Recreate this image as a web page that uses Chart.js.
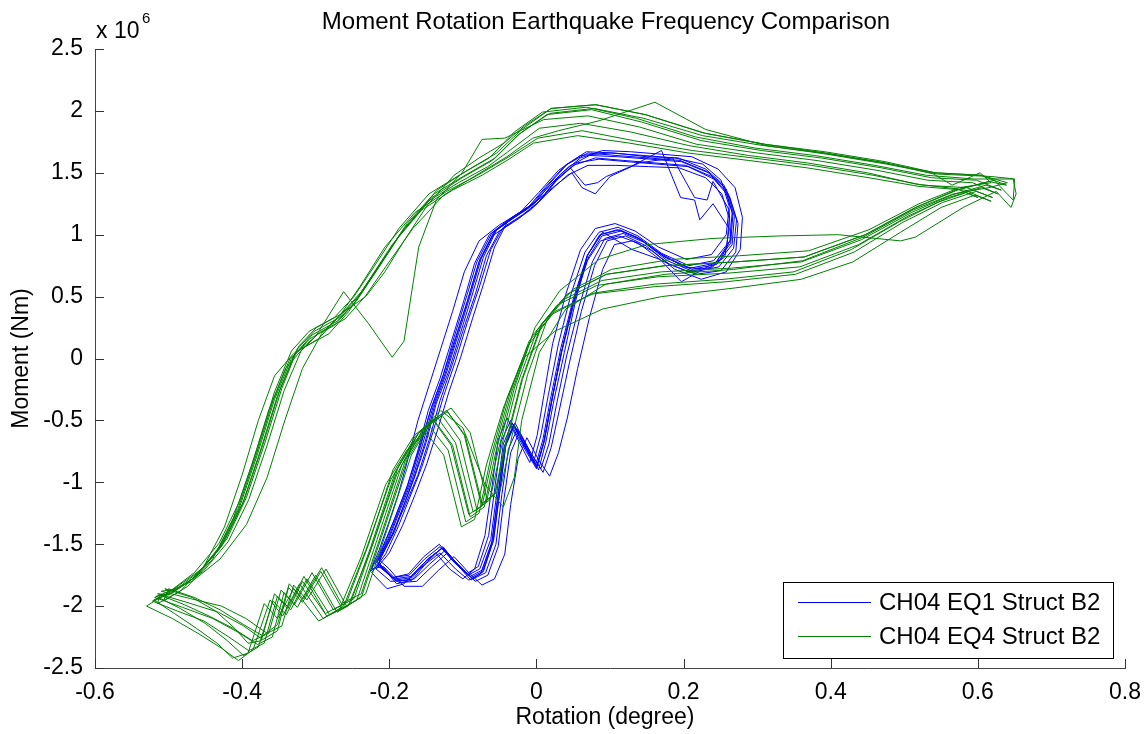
<!DOCTYPE html>
<html>
<head>
<meta charset="utf-8">
<script src="https://cdn.jsdelivr.net/npm/chart.js@4/dist/chart.umd.min.js"></script>
<style>
  html, body { margin: 0; padding: 0; background: #fff; }
  canvas { display: block; }
</style>
</head>
<body>
<canvas id="chart" width="1145" height="734"></canvas>
<script>
'use strict';

// axis ticks
var rotationTicks = [-0.6, -0.4, -0.2, 0, 0.2, 0.4, 0.6, 0.8];
var momentTicks = [-2.5, -2, -1.5, -1, -0.5, 0, 0.5, 1, 1.5, 2, 2.5];

// series labels
var seriesLabels = ['CH04 EQ1 Struct B2', 'CH04 EQ4 Struct B2'];

// EQ1 loops: [rotation (degree), moment (x 10^6 Nm)]
var eq1Cycle1 = [[-0.216,-1.64],[-0.200,-1.45],[-0.185,-1.22],[-0.169,-0.98],[-0.155,-0.70],[-0.140,-0.38],[-0.124,-0.12],[-0.108,0.19],[-0.093,0.48],[-0.077,0.80],[-0.058,1.02],[-0.030,1.14],[-0.005,1.24],[0.018,1.40],[0.044,1.55],[0.072,1.64],[0.110,1.63],[0.155,1.61],[0.197,1.59],[0.234,1.50],[0.258,1.37],[0.269,1.15],[0.266,0.92],[0.245,0.76],[0.211,0.72],[0.174,0.82],[0.142,0.96],[0.115,1.03],[0.089,0.99],[0.071,0.82],[0.052,0.47],[0.035,0.07],[0.021,-0.34],[0.011,-0.66],[0.001,-0.87],[-0.014,-0.72],[-0.031,-0.53],[-0.043,-0.70],[-0.051,-1.06],[-0.060,-1.47],[-0.074,-1.71],[-0.090,-1.76],[-0.108,-1.66],[-0.128,-1.53],[-0.149,-1.63],[-0.170,-1.76],[-0.193,-1.78],[-0.212,-1.68]];
var eq1Cycle2 = [[-0.214,-1.62],[-0.196,-1.42],[-0.178,-1.18],[-0.161,-0.94],[-0.146,-0.66],[-0.131,-0.34],[-0.115,-0.06],[-0.099,0.24],[-0.083,0.52],[-0.068,0.83],[-0.050,1.03],[-0.024,1.13],[0.001,1.25],[0.024,1.42],[0.050,1.56],[0.080,1.62],[0.118,1.60],[0.160,1.58],[0.203,1.56],[0.238,1.47],[0.261,1.33],[0.272,1.12],[0.268,0.89],[0.248,0.74],[0.214,0.70],[0.178,0.79],[0.146,0.94],[0.118,1.01],[0.093,0.97],[0.076,0.78],[0.058,0.42],[0.041,0.02],[0.027,-0.38],[0.017,-0.69],[0.006,-0.89],[-0.009,-0.75],[-0.026,-0.57],[-0.038,-0.73],[-0.047,-1.10],[-0.055,-1.50],[-0.069,-1.73],[-0.086,-1.78],[-0.104,-1.68],[-0.124,-1.55],[-0.145,-1.66],[-0.166,-1.78],[-0.190,-1.80],[-0.210,-1.70]];
var eq1Cycle3 = [[-0.219,-1.66],[-0.205,-1.48],[-0.190,-1.25],[-0.175,-1.02],[-0.161,-0.74],[-0.147,-0.42],[-0.131,-0.16],[-0.115,0.15],[-0.100,0.44],[-0.084,0.77],[-0.064,1.00],[-0.036,1.13],[-0.010,1.23],[0.013,1.39],[0.039,1.56],[0.068,1.67],[0.106,1.66],[0.150,1.63],[0.193,1.62],[0.230,1.53],[0.255,1.40],[0.266,1.18],[0.263,0.95],[0.241,0.79],[0.207,0.75],[0.170,0.85],[0.138,0.99],[0.111,1.06],[0.085,1.02],[0.066,0.86],[0.047,0.52],[0.030,0.12],[0.016,-0.30],[0.006,-0.62],[-0.004,-0.84],[-0.018,-0.69],[-0.035,-0.50],[-0.048,-0.67],[-0.056,-1.02],[-0.065,-1.43],[-0.079,-1.68],[-0.095,-1.74],[-0.113,-1.64],[-0.132,-1.50],[-0.153,-1.60],[-0.174,-1.74],[-0.196,-1.77],[-0.215,-1.66]];
var eq1Cycle4 = [[-0.211,-1.60],[-0.193,-1.40],[-0.181,-1.20],[-0.165,-0.95],[-0.150,-0.68],[-0.136,-0.36],[-0.119,-0.10],[-0.103,0.21],[-0.088,0.50],[-0.072,0.82],[-0.054,1.04],[-0.027,1.16],[-0.002,1.26],[0.022,1.38],[0.048,1.50],[0.062,1.38],[0.080,1.33],[0.100,1.47],[0.140,1.58],[0.185,1.62],[0.215,1.30],[0.232,1.28],[0.240,1.43],[0.262,1.20],[0.264,0.96],[0.250,0.80],[0.197,0.62],[0.168,0.80],[0.130,0.88],[0.090,1.02],[0.070,0.84],[0.053,0.46],[0.038,0.05],[0.023,-0.36],[0.013,-0.67],[0.003,-0.90],[-0.012,-0.73],[-0.029,-0.52],[-0.041,-0.68],[-0.049,-1.04],[-0.058,-1.46],[-0.072,-1.72],[-0.089,-1.79],[-0.107,-1.67],[-0.127,-1.52],[-0.148,-1.64],[-0.169,-1.79],[-0.190,-1.82],[-0.213,-1.66]];
var eq1Cycle5 = [[-0.226,-1.72],[-0.214,-1.55],[-0.201,-1.33],[-0.188,-1.10],[-0.175,-0.82],[-0.161,-0.50],[-0.146,-0.22],[-0.130,0.08],[-0.114,0.38],[-0.098,0.70],[-0.078,0.95],[-0.050,1.08],[-0.022,1.18],[0.003,1.34],[0.030,1.52],[0.060,1.64],[0.100,1.66],[0.145,1.64],[0.188,1.62],[0.226,1.57],[0.251,1.44],[0.262,1.23],[0.258,1.00],[0.238,0.84],[0.204,0.80],[0.166,0.90],[0.134,1.03],[0.107,1.09],[0.080,1.05],[0.060,0.88],[0.040,0.52],[0.022,0.12],[0.010,-0.30],[0.001,-0.62],[-0.009,-0.84],[-0.023,-0.68],[-0.040,-0.48],[-0.052,-0.66],[-0.060,-1.02],[-0.070,-1.43],[-0.084,-1.70],[-0.100,-1.78],[-0.118,-1.70],[-0.137,-1.57],[-0.158,-1.68],[-0.180,-1.82],[-0.203,-1.86],[-0.224,-1.73]];
var eq1Cycle6 = [[-0.205,-1.58],[-0.188,-1.36],[-0.172,-1.12],[-0.156,-0.88],[-0.141,-0.60],[-0.126,-0.30],[-0.110,-0.02],[-0.094,0.29],[-0.078,0.57],[-0.062,0.88],[-0.045,1.06],[-0.019,1.16],[0.006,1.28],[0.029,1.45],[0.055,1.58],[0.085,1.61],[0.123,1.59],[0.165,1.57],[0.206,1.55],[0.241,1.45],[0.263,1.30],[0.274,1.09],[0.271,0.86],[0.251,0.71],[0.217,0.68],[0.181,0.76],[0.149,0.91],[0.121,0.99],[0.096,0.95],[0.079,0.75],[0.061,0.38],[0.045,-0.03],[0.031,-0.42],[0.020,-0.72],[0.009,-0.92],[-0.006,-0.78],[-0.023,-0.59],[-0.035,-0.76],[-0.044,-1.13],[-0.052,-1.52],[-0.066,-1.75],[-0.083,-1.80],[-0.101,-1.70],[-0.121,-1.57],[-0.142,-1.68],[-0.163,-1.80],[-0.187,-1.81],[-0.208,-1.68]];
var eq1Cycle7 = [[-0.224,-1.70],[-0.209,-1.52],[-0.193,-1.30],[-0.176,-1.04],[-0.160,-0.74],[-0.144,-0.42],[-0.127,-0.14],[-0.110,0.17],[-0.094,0.46],[-0.078,0.78],[-0.060,0.99],[-0.033,1.10],[-0.008,1.20],[0.016,1.34],[0.042,1.48],[0.070,1.56],[0.108,1.56],[0.152,1.55],[0.194,1.54],[0.230,1.46],[0.252,1.33],[0.262,1.13],[0.259,0.91],[0.240,0.74],[0.206,0.70],[0.170,0.79],[0.139,0.93],[0.112,0.99],[0.087,0.95],[0.068,0.78],[0.049,0.43],[0.033,0.03],[0.020,-0.37],[0.010,-0.68],[0.000,-0.89],[-0.015,-0.74],[-0.032,-0.56],[-0.044,-0.72],[-0.052,-1.09],[-0.061,-1.50],[-0.076,-1.74],[-0.092,-1.79],[-0.110,-1.70],[-0.131,-1.57],[-0.153,-1.67],[-0.175,-1.79],[-0.198,-1.80],[-0.218,-1.70]];
var eq1Cycle8 = [[-0.200,-1.57],[-0.182,-1.35],[-0.165,-1.10],[-0.149,-0.85],[-0.134,-0.57],[-0.119,-0.27],[-0.103,0.01],[-0.087,0.32],[-0.072,0.60],[-0.057,0.90],[-0.040,1.10],[-0.014,1.20],[0.010,1.32],[0.033,1.49],[0.060,1.62],[0.090,1.68],[0.128,1.67],[0.170,1.65],[0.211,1.63],[0.247,1.53],[0.270,1.38],[0.280,1.14],[0.277,0.88],[0.258,0.70],[0.224,0.64],[0.188,0.72],[0.157,0.87],[0.130,0.95],[0.106,0.92],[0.090,0.72],[0.072,0.33],[0.056,-0.08],[0.042,-0.48],[0.030,-0.76],[0.018,-0.95],[0.004,-0.83],[-0.013,-0.64],[-0.025,-0.81],[-0.035,-1.18],[-0.043,-1.58],[-0.057,-1.78],[-0.074,-1.83],[-0.092,-1.73],[-0.112,-1.60],[-0.133,-1.71],[-0.155,-1.84],[-0.180,-1.84],[-0.200,-1.70]];
var eq1Cycle9 = [[-0.213,-1.63],[-0.197,-1.44],[-0.182,-1.21],[-0.167,-0.97],[-0.152,-0.69],[-0.138,-0.37],[-0.122,-0.11],[-0.106,0.20],[-0.091,0.49],[-0.075,0.81],[-0.056,1.03],[-0.028,1.15],[-0.004,1.25],[0.020,1.41],[0.046,1.54],[0.066,1.40],[0.083,1.42],[0.095,1.47],[0.128,1.55],[0.170,1.68],[0.196,1.30],[0.215,1.28],[0.222,1.12],[0.240,1.25],[0.262,1.05],[0.256,0.82],[0.232,0.72],[0.200,0.74],[0.166,0.86],[0.136,0.98],[0.110,1.04],[0.086,1.00],[0.069,0.83],[0.050,0.45],[0.034,0.05],[0.020,-0.36],[0.010,-0.67],[0.000,-0.88],[-0.014,-0.72],[-0.030,-0.54],[-0.042,-0.71],[-0.050,-1.08],[-0.059,-1.48],[-0.073,-1.72],[-0.089,-1.77],[-0.107,-1.66],[-0.127,-1.53],[-0.148,-1.62],[-0.169,-1.77],[-0.192,-1.79],[-0.211,-1.67]];
var eq1Cycle10 = [[-0.217,-1.65],[-0.202,-1.46],[-0.187,-1.23],[-0.172,-1.00],[-0.158,-0.72],[-0.143,-0.40],[-0.127,-0.14],[-0.112,0.17],[-0.097,0.46],[-0.081,0.78],[-0.061,1.01],[-0.033,1.14],[-0.007,1.24],[0.016,1.40],[0.042,1.57],[0.070,1.66],[0.108,1.64],[0.152,1.62],[0.195,1.60],[0.232,1.51],[0.256,1.38],[0.267,1.16],[0.264,0.93],[0.243,0.77],[0.209,0.73],[0.172,0.83],[0.140,0.97],[0.113,1.04],[0.087,1.00],[0.069,0.83],[0.050,0.48],[0.033,0.08],[0.019,-0.33],[0.009,-0.65],[-0.001,-0.86],[-0.016,-0.71],[-0.033,-0.52],[-0.045,-0.69],[-0.053,-1.05],[-0.062,-1.46],[-0.077,-1.70],[-0.093,-1.75],[-0.111,-1.65],[-0.131,-1.52],[-0.152,-1.62],[-0.173,-1.75],[-0.196,-1.77],[-0.214,-1.67]];

// EQ4 loops: [rotation (degree), moment (x 10^6 Nm)]
var eq4Cycle1 = [[-0.519,-1.93],[-0.481,-2.01],[-0.440,-2.10],[-0.406,-2.21],[-0.379,-2.31],[-0.359,-2.25],[-0.343,-1.89],[-0.325,-2.01],[-0.300,-1.75],[-0.271,-2.05],[-0.244,-1.95],[-0.217,-1.47],[-0.183,-0.86],[-0.155,-0.58],[-0.128,-0.46],[-0.104,-0.66],[-0.081,-1.22],[-0.063,-1.14],[-0.047,-0.70],[-0.026,-0.21],[0.001,0.23],[0.035,0.47],[0.089,0.63],[0.170,0.70],[0.265,0.73],[0.360,0.78],[0.442,0.96],[0.510,1.18],[0.564,1.32],[0.611,1.40],[0.632,1.36],[0.598,1.44],[0.537,1.46],[0.469,1.54],[0.387,1.62],[0.306,1.68],[0.224,1.76],[0.143,1.91],[0.075,2.01],[0.014,1.97],[-0.026,1.80],[-0.060,1.60],[-0.101,1.46],[-0.142,1.30],[-0.183,1.02],[-0.217,0.71],[-0.244,0.47],[-0.271,0.30],[-0.305,0.19],[-0.329,0.03],[-0.352,-0.30],[-0.375,-0.74],[-0.400,-1.18],[-0.427,-1.51],[-0.461,-1.75],[-0.494,-1.89]];
var eq4Cycle2 = [[-0.522,-1.96],[-0.488,-2.04],[-0.452,-2.12],[-0.418,-2.25],[-0.391,-2.36],[-0.370,-2.30],[-0.352,-1.92],[-0.334,-2.03],[-0.312,-1.78],[-0.281,-2.07],[-0.253,-1.98],[-0.225,-1.52],[-0.192,-0.92],[-0.165,-0.63],[-0.139,-0.50],[-0.114,-0.70],[-0.090,-1.28],[-0.071,-1.20],[-0.055,-0.75],[-0.033,-0.26],[-0.006,0.18],[0.028,0.43],[0.082,0.59],[0.165,0.66],[0.262,0.69],[0.358,0.74],[0.438,0.92],[0.505,1.15],[0.560,1.30],[0.605,1.38],[0.627,1.33],[0.593,1.42],[0.532,1.44],[0.463,1.52],[0.380,1.60],[0.300,1.66],[0.218,1.73],[0.140,1.87],[0.070,1.96],[0.010,1.93],[-0.043,1.78],[-0.074,1.77],[-0.101,1.50],[-0.136,1.28],[-0.160,0.90],[-0.180,0.14],[-0.196,0.01],[-0.228,0.28],[-0.262,0.54],[-0.300,0.18],[-0.335,0.00],[-0.358,-0.34],[-0.381,-0.78],[-0.406,-1.22],[-0.433,-1.55],[-0.467,-1.78],[-0.500,-1.91]];
var eq4Cycle3 = [[-0.515,-1.90],[-0.475,-1.97],[-0.432,-2.05],[-0.398,-2.16],[-0.372,-2.27],[-0.352,-2.20],[-0.337,-1.85],[-0.318,-1.97],[-0.293,-1.72],[-0.264,-2.02],[-0.238,-1.93],[-0.210,-1.43],[-0.176,-0.82],[-0.148,-0.54],[-0.121,-0.43],[-0.097,-0.62],[-0.074,-1.17],[-0.056,-1.09],[-0.040,-0.66],[-0.019,-0.17],[0.008,0.28],[0.042,0.52],[0.095,0.68],[0.176,0.75],[0.270,0.78],[0.364,0.82],[0.447,1.00],[0.516,1.22],[0.572,1.36],[0.622,1.44],[0.648,1.28],[0.650,1.45],[0.618,1.47],[0.545,1.49],[0.476,1.57],[0.395,1.65],[0.312,1.72],[0.230,1.85],[0.161,2.07],[0.085,1.92],[0.030,1.84],[-0.005,1.78],[-0.040,1.63],[-0.082,1.48],[-0.126,1.32],[-0.168,1.05],[-0.205,0.74],[-0.233,0.50],[-0.260,0.32],[-0.295,0.21],[-0.320,0.06],[-0.343,-0.26],[-0.366,-0.70],[-0.391,-1.14],[-0.419,-1.48],[-0.453,-1.72],[-0.487,-1.86]];
var eq4Cycle4 = [[-0.510,-1.88],[-0.470,-1.94],[-0.428,-2.00],[-0.395,-2.10],[-0.366,-2.22],[-0.346,-2.16],[-0.330,-1.83],[-0.312,-1.95],[-0.286,-1.70],[-0.258,-2.00],[-0.232,-1.90],[-0.204,-1.40],[-0.170,-0.78],[-0.142,-0.50],[-0.116,-0.40],[-0.090,-0.60],[-0.067,-1.14],[-0.049,-1.06],[-0.033,-0.62],[-0.012,-0.13],[0.015,0.32],[0.050,0.56],[0.102,0.72],[0.182,0.80],[0.276,0.83],[0.370,0.87],[0.452,1.04],[0.520,1.25],[0.575,1.38],[0.618,1.42],[0.603,1.50],[0.565,1.40],[0.540,1.49],[0.475,1.58],[0.393,1.66],[0.311,1.73],[0.228,1.82],[0.148,1.97],[0.080,2.05],[0.020,2.02],[-0.020,1.85],[-0.054,1.66],[-0.094,1.52],[-0.135,1.36],[-0.176,1.09],[-0.210,0.78],[-0.238,0.54],[-0.265,0.36],[-0.299,0.25],[-0.323,0.10],[-0.346,-0.24],[-0.369,-0.68],[-0.394,-1.12],[-0.421,-1.46],[-0.455,-1.70],[-0.490,-1.85]];
var eq4Cycle5 = [[-0.530,-2.00],[-0.495,-2.10],[-0.460,-2.22],[-0.428,-2.34],[-0.405,-2.44],[-0.385,-2.35],[-0.362,-1.95],[-0.345,-2.08],[-0.322,-1.82],[-0.290,-2.10],[-0.262,-2.00],[-0.232,-1.55],[-0.198,-0.98],[-0.170,-0.70],[-0.145,-0.55],[-0.120,-0.74],[-0.096,-1.32],[-0.078,-1.25],[-0.062,-0.80],[-0.040,-0.32],[-0.012,0.10],[0.022,0.36],[0.075,0.52],[0.160,0.58],[0.258,0.62],[0.352,0.68],[0.432,0.86],[0.498,1.10],[0.552,1.26],[0.598,1.35],[0.620,1.30],[0.585,1.38],[0.525,1.40],[0.458,1.48],[0.374,1.56],[0.294,1.62],[0.212,1.68],[0.132,1.76],[0.062,1.84],[0.002,1.78],[-0.040,1.62],[-0.080,1.48],[-0.122,1.35],[-0.165,1.18],[-0.206,0.90],[-0.240,0.58],[-0.268,0.34],[-0.296,0.16],[-0.330,0.04],[-0.356,-0.14],[-0.378,-0.50],[-0.400,-0.94],[-0.424,-1.36],[-0.452,-1.68],[-0.484,-1.88],[-0.515,-1.98]];
var eq4Cycle6 = [[-0.512,-1.91],[-0.478,-1.99],[-0.445,-2.08],[-0.412,-2.18],[-0.386,-2.28],[-0.364,-2.22],[-0.347,-1.87],[-0.329,-1.99],[-0.305,-1.73],[-0.276,-2.03],[-0.248,-1.94],[-0.222,-1.49],[-0.188,-0.88],[-0.160,-0.60],[-0.134,-0.48],[-0.110,-0.68],[-0.086,-1.24],[-0.068,-1.16],[-0.051,-0.72],[-0.030,-0.24],[-0.002,0.25],[0.032,0.55],[0.085,0.80],[0.150,0.92],[0.240,0.97],[0.330,0.99],[0.410,1.00],[0.495,0.95],[0.515,0.98],[0.580,1.22],[0.625,1.35],[0.645,1.22],[0.652,1.33],[0.648,1.45],[0.595,1.45],[0.530,1.48],[0.460,1.56],[0.378,1.64],[0.297,1.70],[0.216,1.79],[0.136,1.94],[0.068,2.03],[0.008,1.99],[-0.030,1.83],[-0.064,1.62],[-0.105,1.48],[-0.146,1.33],[-0.187,1.05],[-0.221,0.74],[-0.248,0.50],[-0.275,0.33],[-0.309,0.22],[-0.333,0.06],[-0.356,-0.27],[-0.379,-0.72],[-0.404,-1.16],[-0.431,-1.49],[-0.465,-1.73],[-0.498,-1.88]];
var eq4Cycle7 = [[-0.505,-1.86],[-0.468,-1.93],[-0.436,-2.04],[-0.410,-2.18],[-0.392,-2.30],[-0.374,-2.28],[-0.356,-1.90],[-0.338,-2.02],[-0.316,-1.76],[-0.287,-2.06],[-0.258,-1.97],[-0.228,-1.50],[-0.195,-0.90],[-0.166,-0.62],[-0.140,-0.50],[-0.116,-0.70],[-0.092,-1.26],[-0.074,-1.19],[-0.058,-0.76],[-0.036,-0.28],[-0.010,0.14],[0.025,0.38],[0.079,0.53],[0.160,0.60],[0.255,0.64],[0.350,0.70],[0.428,0.88],[0.492,1.10],[0.545,1.26],[0.584,1.34],[0.600,1.30],[0.572,1.37],[0.515,1.41],[0.450,1.50],[0.368,1.58],[0.288,1.64],[0.207,1.72],[0.128,1.83],[0.060,1.90],[0.004,1.86],[-0.032,1.70],[-0.066,1.55],[-0.106,1.42],[-0.147,1.27],[-0.187,0.99],[-0.221,0.68],[-0.247,0.45],[-0.274,0.27],[-0.308,0.16],[-0.333,0.00],[-0.356,-0.33],[-0.379,-0.77],[-0.404,-1.21],[-0.431,-1.54],[-0.465,-1.77],[-0.497,-1.90]];
var eq4Cycle8 = [[-0.517,-1.92],[-0.484,-2.02],[-0.450,-2.14],[-0.420,-2.28],[-0.398,-2.40],[-0.378,-2.33],[-0.358,-1.96],[-0.340,-2.07],[-0.318,-1.80],[-0.285,-2.08],[-0.256,-2.00],[-0.226,-1.56],[-0.190,-0.94],[-0.160,-0.60],[-0.130,-0.42],[-0.100,-0.56],[-0.070,-1.02],[-0.045,-1.20],[-0.030,-0.96],[-0.020,-0.50],[0.004,0.05],[0.040,0.40],[0.094,0.60],[0.175,0.68],[0.268,0.72],[0.362,0.79],[0.444,0.98],[0.512,1.20],[0.567,1.33],[0.615,1.38],[0.640,1.42],[0.605,1.48],[0.542,1.50],[0.472,1.58],[0.390,1.66],[0.308,1.72],[0.226,1.80],[0.146,1.94],[0.078,2.02],[0.018,1.98],[-0.022,1.82],[-0.056,1.62],[-0.097,1.48],[-0.139,1.33],[-0.180,1.05],[-0.214,0.75],[-0.241,0.51],[-0.268,0.33],[-0.302,0.22],[-0.326,0.07],[-0.349,-0.26],[-0.372,-0.70],[-0.397,-1.14],[-0.424,-1.47],[-0.458,-1.72],[-0.491,-1.87]];
var eq4Cycle9 = [[-0.520,-1.95],[-0.492,-2.06],[-0.462,-2.18],[-0.434,-2.30],[-0.413,-2.42],[-0.392,-2.38],[-0.370,-1.98],[-0.352,-2.10],[-0.330,-1.86],[-0.296,-2.12],[-0.268,-2.03],[-0.238,-1.60],[-0.205,-1.02],[-0.176,-0.74],[-0.150,-0.60],[-0.126,-0.78],[-0.102,-1.36],[-0.084,-1.30],[-0.068,-0.86],[-0.045,-0.40],[-0.018,0.00],[0.025,0.22],[0.090,0.40],[0.170,0.50],[0.270,0.57],[0.360,0.64],[0.430,0.78],[0.495,1.02],[0.550,1.22],[0.596,1.32],[0.618,1.27],[0.582,1.36],[0.520,1.39],[0.452,1.46],[0.368,1.54],[0.288,1.60],[0.206,1.66],[0.126,1.74],[0.056,1.80],[-0.004,1.74],[-0.040,1.60],[-0.074,1.48],[-0.114,1.36],[-0.156,1.20],[-0.196,0.92],[-0.229,0.62],[-0.255,0.38],[-0.282,0.20],[-0.316,0.09],[-0.341,-0.08],[-0.364,-0.42],[-0.387,-0.86],[-0.412,-1.29],[-0.440,-1.62],[-0.474,-1.84],[-0.507,-1.96]];
var eq4Cycle10 = [[-0.500,-1.86],[-0.465,-1.93],[-0.430,-2.03],[-0.398,-2.15],[-0.372,-2.24],[-0.352,-2.15],[-0.336,-1.82],[-0.317,-1.94],[-0.292,-1.69],[-0.265,-1.98],[-0.238,-1.90],[-0.211,-1.42],[-0.178,-0.82],[-0.150,-0.54],[-0.122,-0.42],[-0.098,-0.62],[-0.075,-1.18],[-0.057,-1.10],[-0.041,-0.66],[-0.020,-0.17],[0.007,0.28],[0.042,0.52],[0.095,0.68],[0.174,0.75],[0.270,0.78],[0.364,0.82],[0.447,1.00],[0.515,1.22],[0.570,1.36],[0.615,1.43],[0.639,1.40],[0.604,1.48],[0.542,1.50],[0.474,1.59],[0.392,1.67],[0.311,1.73],[0.229,1.82],[0.148,1.97],[0.081,2.05],[0.020,2.02],[-0.016,1.88],[-0.044,1.74],[-0.078,1.62],[-0.112,1.48],[-0.148,1.24],[-0.180,0.95],[-0.206,0.70],[-0.232,0.50],[-0.266,0.36],[-0.292,0.20],[-0.318,-0.08],[-0.342,-0.50],[-0.366,-0.96],[-0.394,-1.34],[-0.430,-1.62],[-0.468,-1.80]];

var eq1Cycles = [eq1Cycle1, eq1Cycle2, eq1Cycle3, eq1Cycle4, eq1Cycle5, eq1Cycle6, eq1Cycle7, eq1Cycle8, eq1Cycle9, eq1Cycle10];
var eq4Cycles = [eq4Cycle1, eq4Cycle2, eq4Cycle3, eq4Cycle4, eq4Cycle5, eq4Cycle6, eq4Cycle7, eq4Cycle8, eq4Cycle9, eq4Cycle10];

var FONT = '"Liberation Sans", Arial, Helvetica, sans-serif';
var FONT_SIZE = 23;

// join the loops into one continuous trace, as the recorder did
function toPoints(cycles) {
    var pts = [];
    cycles.forEach(function(c) {
        c.forEach(function(p) { pts.push({x: p[0], y: p[1]}); });
    });
    pts.push({x: cycles[0][0][0], y: cycles[0][0][1]});
    return pts;
}

function fmt(v) {
    return String(Math.round(v * 10) / 10);
}

// MATLAB style decorations: inward ticks, title, labels, exponent, boxed legend
var matlabDecor = {
    id: 'matlabDecor',
    afterDraw: function(chart) {
        var ctx = chart.ctx;
        var area = chart.chartArea;
        var xs = chart.scales.x, ys = chart.scales.y;
        ctx.save();

        // inward tick marks
        ctx.strokeStyle = '#333';
        ctx.lineWidth = 1;
        ctx.beginPath();
        momentTicks.forEach(function(t) {
            var py = Math.round(ys.getPixelForValue(t)) + 0.5;
            ctx.moveTo(area.left, py);
            ctx.lineTo(area.left + 9, py);
        });
        rotationTicks.forEach(function(t) {
            var px = Math.round(xs.getPixelForValue(t)) + 0.5;
            ctx.moveTo(px, area.bottom);
            ctx.lineTo(px, area.bottom - 9);
        });
        ctx.stroke();

        ctx.fillStyle = '#000';
        ctx.textAlign = 'center';
        ctx.textBaseline = 'middle';
        var cx = (area.left + area.right) / 2;

        // title
        ctx.font = '24px ' + FONT;
        ctx.fillText('Moment Rotation Earthquake Frequency Comparison', cx - 4, 22);

        // axis labels
        ctx.font = FONT_SIZE + 'px ' + FONT;
        ctx.fillText('Rotation (degree)', cx - 5, 718);
        ctx.save();
        ctx.translate(22, (area.top + area.bottom) / 2);
        ctx.rotate(-Math.PI / 2);
        ctx.fillText('Moment (Nm)', 0, 0);
        ctx.restore();

        // exponent
        ctx.textAlign = 'left';
        ctx.textBaseline = 'alphabetic';
        ctx.fillText('x 10', area.left + 1, 38);
        ctx.font = '15px ' + FONT;
        ctx.fillText('6', area.left + 47, 23);

        // legend
        var lx = 783, ly = 582, lw = 330, lh = 76;
        ctx.fillStyle = '#fff';
        ctx.fillRect(lx, ly, lw, lh);
        ctx.strokeStyle = '#000';
        ctx.strokeRect(lx + 0.5, ly + 0.5, lw, lh);
        ctx.font = '24px ' + FONT;
        ctx.textBaseline = 'middle';
        chart.data.datasets.forEach(function(ds, i) {
            var ry = ly + 20 + i * 34;
            ctx.strokeStyle = ds.borderColor;
            ctx.beginPath();
            ctx.moveTo(lx + 15, ry + 0.5);
            ctx.lineTo(lx + 88, ry + 0.5);
            ctx.stroke();
            ctx.fillStyle = '#000';
            ctx.fillText(ds.label, lx + 96, ry + 1);
        });

        ctx.restore();
    }
};

var tickFont = {family: FONT, size: FONT_SIZE};

new Chart(document.getElementById('chart').getContext('2d'), {
    type: 'scatter',
    data: {
        datasets: [{
            label: seriesLabels[0],
            data: toPoints(eq1Cycles),
            showLine: true,
            borderColor: '#0000ff',
            borderWidth: 1,
            pointRadius: 0,
            tension: 0,
            order: 1
        }, {
            label: seriesLabels[1],
            data: toPoints(eq4Cycles),
            showLine: true,
            borderColor: '#008000',
            borderWidth: 1,
            pointRadius: 0,
            tension: 0,
            order: 0
        }]
    },
    options: {
        responsive: false,
        animation: false,
        layout: {padding: {left: 0, right: 20, top: 49, bottom: 0}},
        scales: {
            x: {
                type: 'linear',
                min: -0.6,
                max: 0.8,
                afterBuildTicks: function(s) {
                    s.ticks = rotationTicks.map(function(v) { return {value: v}; });
                },
                afterFit: function(s) { s.height = 66; },
                grid: {display: false},
                border: {color: '#444', width: 1},
                ticks: {
                    font: tickFont,
                    color: '#000',
                    padding: 3,
                    maxRotation: 0,
                    callback: fmt
                }
            },
            y: {
                type: 'linear',
                min: -2.5,
                max: 2.5,
                afterBuildTicks: function(s) {
                    s.ticks = momentTicks.map(function(v) { return {value: v}; });
                },
                afterFit: function(s) { s.width = 95; },
                grid: {display: false},
                border: {color: '#444', width: 1},
                ticks: {
                    font: tickFont,
                    color: '#000',
                    padding: 4,
                    callback: fmt
                }
            }
        },
        plugins: {
            legend: {display: false},
            tooltip: {enabled: false}
        }
    },
    plugins: [matlabDecor]
});
</script>
</body>
</html>
